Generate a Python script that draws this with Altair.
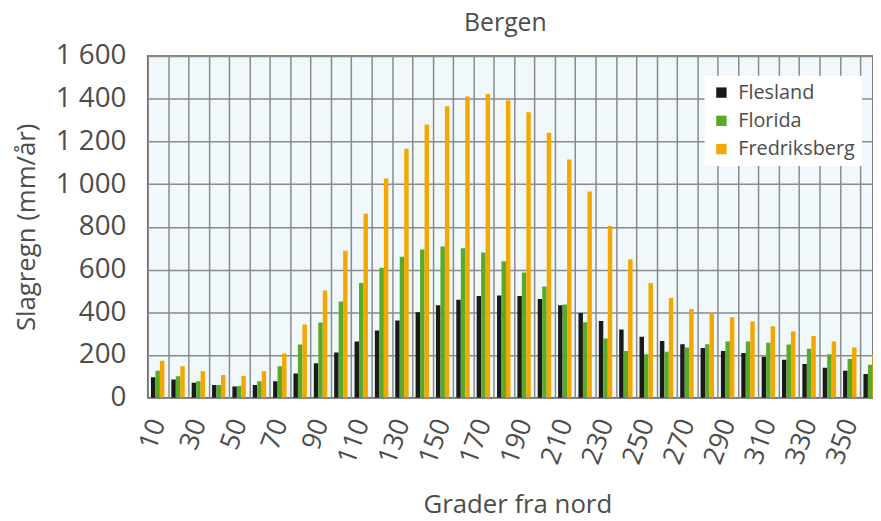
import altair as alt
import pandas as pd

angles = [10, 20, 30, 40, 50, 60, 70, 80, 90, 100, 110, 120, 130, 140, 150, 160, 170, 180,
          190, 200, 210, 220, 230, 240, 250, 260, 270, 280, 290, 300, 310, 320, 330, 340, 350, 360]
flesland = [96, 85, 70, 60, 53, 60, 77, 114, 161, 212, 263, 315, 362, 400, 433, 459, 476, 479,
            476, 462, 433, 397, 359, 320, 286, 266, 250, 233, 219, 210, 192, 178, 158, 141, 127, 111]
florida = [127, 101, 77, 60, 55, 77, 147, 249, 352, 451, 537, 609, 660, 694, 708, 700, 680, 639,
           586, 521, 437, 354, 277, 219, 204, 215, 235, 250, 263, 263, 258, 249, 229, 204, 181, 154]
fredriksberg = [173, 147, 124, 107, 102, 124, 207, 343, 502, 688, 861, 1026, 1166, 1279, 1364, 1410, 1422, 1392,
                1336, 1240, 1115, 965, 804, 648, 537, 467, 416, 398, 377, 357, 335, 310, 289, 263, 235, 204]
series = ["Flesland", "Florida", "Fredriksberg"]
colors = ["#1b1919", "#5aaa2a", "#f2a800"]
y_ticks = [0, 200, 400, 600, 800, 1000, 1200, 1400, 1600]

rows = []
for i, a in enumerate(angles):
    for k, vals in enumerate([flesland, florida, fredriksberg]):
        rows.append({"angle": a, "series": series[k], "idx": k, "value": vals[i]})
df = pd.DataFrame(rows)

grid_vals = [a - 5 for a in angles]

TXT = "#4c4c4c"
FONT = "Open Sans"

chart = alt.Chart(df).transform_calculate(
    x0="datum.angle - 3.4 + datum.idx * 2.2",
    x1="datum.angle - 3.4 + datum.idx * 2.2 + 2.2",
).mark_bar(clip=True).encode(
    x=alt.X("x0:Q",
            scale=alt.Scale(domain=[5, 361.3], nice=False, zero=False),
            axis=alt.Axis(values=grid_vals,
                          labelExpr="(datum.value - 5) % 20 == 0 ? '' + (datum.value + 5) : ''",
                          labelOffset=10.27, labelAngle=290, labelAlign="right",
                          labelBaseline="middle", labelPadding=22, labelOverlap=False,
                          labelFlush=False, labelFontSize=27, labelColor=TXT, labelFont=FONT,
                          grid=True, gridColor="#8a8a8a", gridWidth=1.5,
                          domain=False, ticks=False,
                          title="Grader fra nord", titleFontSize=26, titleFont=FONT,
                          titleFontWeight="normal", titleColor=TXT,
                          titleX=373, titleY=116, titleAlign="center",
                          titleBaseline="alphabetic")),
    x2="x1:Q",
    y=alt.Y("value:Q",
            scale=alt.Scale(domain=[0, 1600], nice=False),
            axis=alt.Axis(values=y_ticks,
                          labelExpr="replace(format(datum.value, ','), ',', ' ')",
                          labelPadding=22, labelFontSize=28, labelColor=TXT, labelFont=FONT,
                          grid=True, gridColor="#8a8a8a", gridWidth=1.5,
                          domain=False, ticks=False,
                          title="Slagregn (mm/år)", titleFontSize=26, titleFont=FONT,
                          titleFontWeight="normal", titleColor=TXT,
                          titleX=-122, titleY=172.5, titleAngle=270,
                          titleAlign="center", titleBaseline="middle")),
    y2=alt.datum(0),
    color=alt.Color("series:N",
                    scale=alt.Scale(domain=series, range=colors),
                    legend=alt.Legend(orient="none", legendX=562, legendY=20, title=None,
                                      fillColor="white", padding=7, symbolType="square",
                                      symbolSize=110, symbolStrokeWidth=0, symbolOpacity=1,
                                      labelFontSize=20, labelColor=TXT, labelFont=FONT,
                                      labelOffset=7, rowPadding=8.5)),
).properties(
    width=732,
    height=345,
    title=alt.TitleParams("Bergen", fontSize=25, font=FONT, fontWeight="normal",
                          color=TXT, anchor="middle", frame="group", offset=12,
                          dx=-5, dy=26, baseline="alphabetic"),
    autosize=alt.AutoSizeParams(type="none"),
    padding={"left": 141, "top": 46, "right": 0, "bottom": 123},
).configure_view(
    fill="#f0f8fb", stroke="#555555", strokeWidth=1.5
)

chart.save("out.html", embed_options={"renderer": "svg", "actions": False})
